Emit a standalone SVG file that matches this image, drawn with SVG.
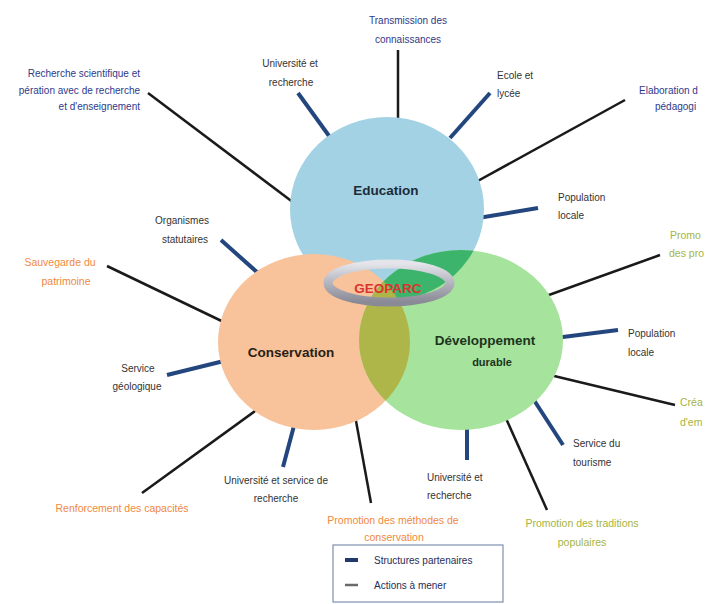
<svg xmlns="http://www.w3.org/2000/svg" width="706" height="604" viewBox="0 0 706 604">
<style>
  text { font-family: "Liberation Sans", Arial, sans-serif; }
  .s { stroke: #23467E; stroke-width: 4; stroke-linecap: butt; fill: none; }
  .a { stroke: #1A1A1A; stroke-width: 2.5; fill: none; }
  .lg { font-size: 10px; fill: #333333; }
  .nv { font-size: 10px; fill: #2E3A8A; }
  .or { font-size: 10.5px; fill: #F0893E; }
  .ol { font-size: 10.5px; fill: #A6B43E; }
  .main { font-size: 13.5px; font-weight: bold; }
  .leg { font-size: 10px; fill: #1F2D5A; }
</style>
<defs>
  <clipPath id="clipEdu"><ellipse cx="387" cy="209" rx="97" ry="92"/></clipPath>
  <clipPath id="clipCons"><ellipse cx="314" cy="342" rx="96" ry="88"/></clipPath>
  <linearGradient id="ringGrad" x1="0" y1="0" x2="0" y2="1">
    <stop offset="0" stop-color="#E4E4EA"/>
    <stop offset="0.5" stop-color="#B4B4BE"/>
    <stop offset="1" stop-color="#8A8A96"/>
  </linearGradient>
</defs>
<rect width="706" height="604" fill="#FFFFFF"/>

<g id="connectors">
  <line class="s" x1="298" y1="93" x2="332" y2="140"/>
  <line class="s" x1="490" y1="93" x2="450" y2="138"/>
  <line class="s" x1="478" y1="218" x2="538" y2="208"/>
  <line class="s" x1="221" y1="240" x2="268" y2="282"/>
  <line class="s" x1="167" y1="375" x2="228" y2="360"/>
  <line class="s" x1="295" y1="422" x2="283" y2="467"/>
  <line class="s" x1="467" y1="420" x2="467" y2="460"/>
  <line class="s" x1="530" y1="394" x2="563" y2="445"/>
  <line class="s" x1="555" y1="338" x2="618" y2="330"/>

  <line class="a" x1="148" y1="93" x2="298" y2="206"/>
  <line class="a" x1="398" y1="50" x2="398" y2="125"/>
  <line class="a" x1="625" y1="100" x2="465" y2="188"/>
  <line class="a" x1="107" y1="266" x2="232" y2="326"/>
  <line class="a" x1="142" y1="493" x2="262" y2="406"/>
  <line class="a" x1="354" y1="410" x2="371" y2="503"/>
  <line class="a" x1="660" y1="255" x2="535" y2="300"/>
  <line class="a" x1="550" y1="375" x2="675" y2="405"/>
  <line class="a" x1="500" y1="405" x2="547" y2="510"/>
</g>

<g id="education">
  <ellipse cx="387" cy="209" rx="97" ry="92" fill="#A3D2E4"/>
</g>
<g id="conservation">
  <ellipse cx="314" cy="342" rx="96" ry="88" fill="#F8C29A"/>
</g>
<g id="developpement">
  <ellipse cx="461" cy="340" rx="102" ry="90" fill="#A6E39C"/>
</g>
<g id="overlaps">
  <ellipse cx="461" cy="340" rx="102" ry="90" fill="#3DB46B" clip-path="url(#clipEdu)"/>
  <ellipse cx="461" cy="340" rx="102" ry="90" fill="#AEB649" clip-path="url(#clipCons)"/>
</g>
<g id="circle-labels">
  <text class="main" x="386" y="195" text-anchor="middle" fill="#1B2B38">Education</text>
  <text class="main" x="291" y="357" text-anchor="middle" fill="#2A1E14">Conservation</text>
  <text class="main" x="485" y="345" text-anchor="middle" fill="#1C341C">Développement</text>
  <text x="492" y="366" text-anchor="middle" font-size="11px" font-weight="bold" fill="#1C341C">durable</text>
</g>
<g id="geoparc">
  <ellipse cx="389" cy="283" rx="61" ry="19" fill="none" stroke="url(#ringGrad)" stroke-width="9"/>
  <text x="388" y="293" text-anchor="middle" font-size="13.5px" font-weight="bold" fill="#D8352F">GEOPARC</text>
</g>

<g id="lbl-recherche-scientifique">
  <text class="nv" x="140" y="77" text-anchor="end">Recherche scientifique et</text>
  <text class="nv" x="140" y="94" text-anchor="end">pération avec de recherche</text>
  <text class="nv" x="140" y="110" text-anchor="end">et d'enseignement</text>
</g>
<g id="lbl-universite-top">
  <text class="lg" x="290" y="67" text-anchor="middle">Université et</text>
  <text class="lg" x="291" y="86" text-anchor="middle">recherche</text>
</g>
<g id="lbl-transmission">
  <text class="nv" x="408" y="24" text-anchor="middle">Transmission des</text>
  <text class="nv" x="408" y="43" text-anchor="middle">connaissances</text>
</g>
<g id="lbl-ecole">
  <text class="lg" x="497" y="79">Ecole et</text>
  <text class="lg" x="497" y="97">lycée</text>
</g>
<g id="lbl-elaboration">
  <text class="nv" x="639" y="94">Elaboration d</text>
  <text class="nv" x="655" y="110">pédagogi</text>
</g>
<g id="lbl-population-edu">
  <text class="lg" x="558" y="201">Population</text>
  <text class="lg" x="558" y="219">locale</text>
</g>
<g id="lbl-organismes">
  <text class="lg" x="182" y="224" text-anchor="middle">Organismes</text>
  <text class="lg" x="185" y="243" text-anchor="middle">statutaires</text>
</g>
<g id="lbl-sauvegarde">
  <text class="or" x="60" y="266" text-anchor="middle">Sauvegarde du</text>
  <text class="or" x="66" y="285" text-anchor="middle">patrimoine</text>
</g>
<g id="lbl-service-geo">
  <text class="lg" x="138" y="372" text-anchor="middle">Service</text>
  <text class="lg" x="137" y="390" text-anchor="middle">géologique</text>
</g>
<g id="lbl-renforcement">
  <text class="or" x="122" y="512" text-anchor="middle">Renforcement des capacités</text>
</g>
<g id="lbl-universite-service">
  <text class="lg" x="276" y="484" text-anchor="middle">Université et service de</text>
  <text class="lg" x="276" y="502" text-anchor="middle">recherche</text>
</g>
<g id="lbl-promotion-methodes">
  <text class="or" x="393" y="524" text-anchor="middle">Promotion des méthodes de</text>
  <text class="or" x="394" y="541" text-anchor="middle">conservation</text>
</g>
<g id="lbl-promo-produits">
  <text class="ol" x="670" y="239">Promo</text>
  <text class="ol" x="669" y="257">des pro</text>
</g>
<g id="lbl-population-dev">
  <text class="lg" x="628" y="337">Population</text>
  <text class="lg" x="628" y="356">locale</text>
</g>
<g id="lbl-creation">
  <text class="ol" x="680" y="406">Créa</text>
  <text class="ol" x="680" y="426">d'em</text>
</g>
<g id="lbl-tourisme">
  <text class="lg" x="573" y="447">Service du</text>
  <text class="lg" x="573" y="466">tourisme</text>
</g>
<g id="lbl-universite-bottom">
  <text class="lg" x="427" y="481">Université et</text>
  <text class="lg" x="427" y="499">recherche</text>
</g>
<g id="lbl-traditions">
  <text class="ol" x="582" y="527" text-anchor="middle">Promotion des traditions</text>
  <text class="ol" x="582" y="546" text-anchor="middle">populaires</text>
</g>

<g id="legend">
  <rect x="333" y="545" width="170" height="57" fill="#FFFFFF" stroke="#7F8FB0" stroke-width="1.2"/>
  <line x1="345" y1="560" x2="358" y2="560" stroke="#1F3A6E" stroke-width="4"/>
  <text class="leg" x="374" y="564">Structures partenaires</text>
  <line x1="345" y1="585" x2="358" y2="585" stroke="#6A6A6A" stroke-width="2.5"/>
  <text class="leg" x="374" y="589">Actions à mener</text>
</g>
</svg>
